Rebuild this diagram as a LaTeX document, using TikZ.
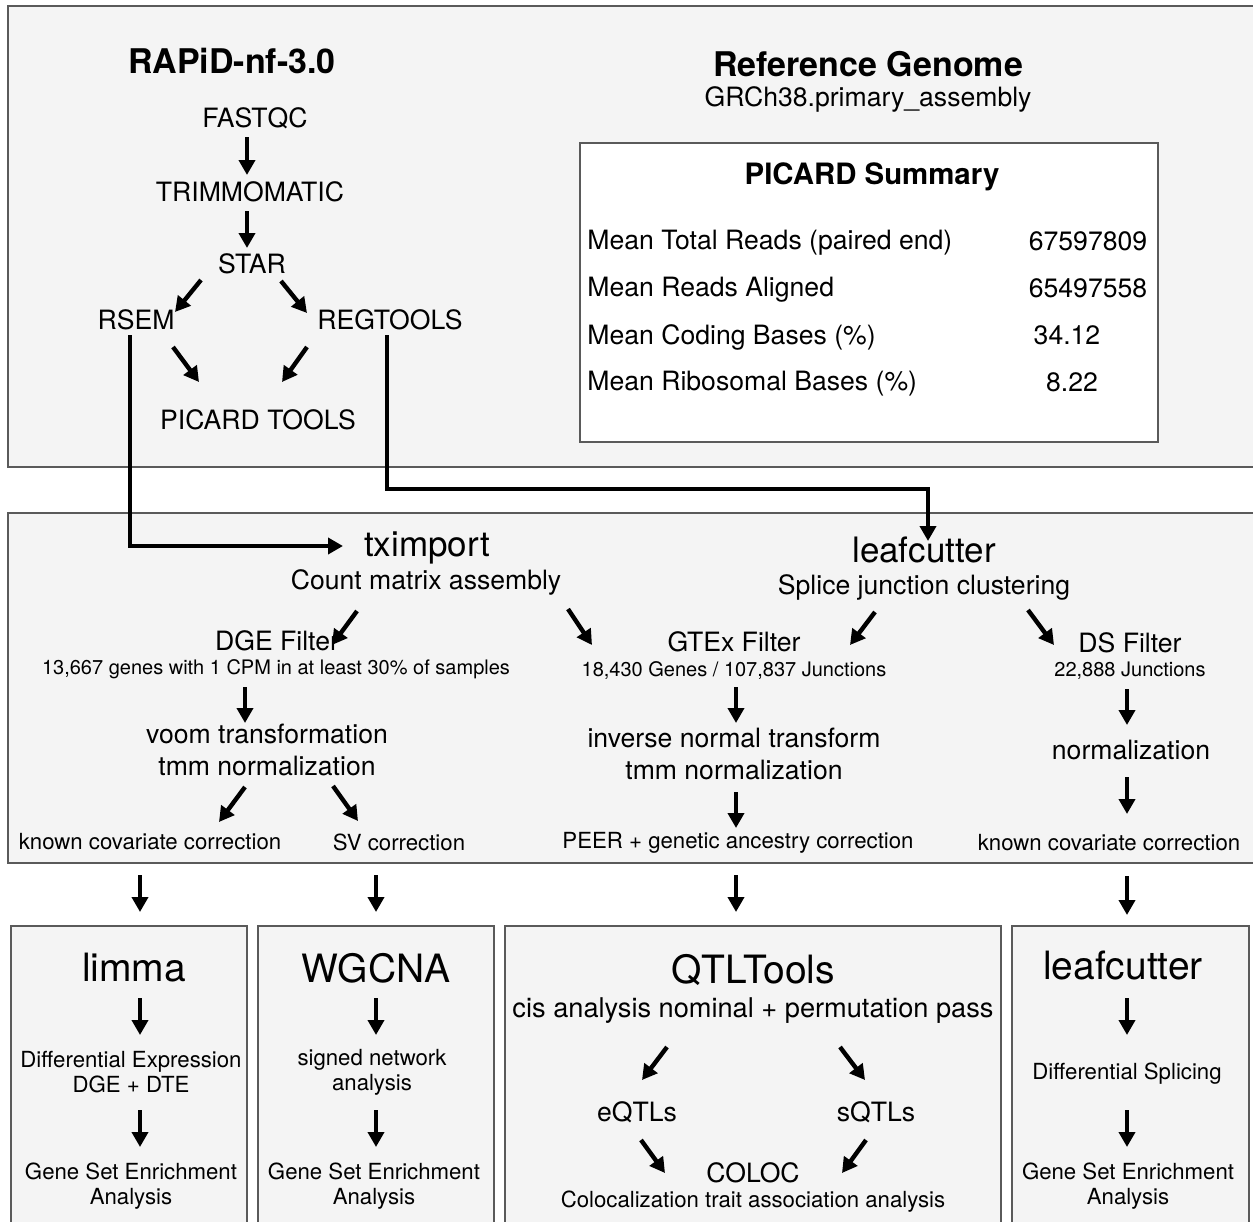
\documentclass[tikz,border=0pt]{standalone}
\usepackage{fontspec}
\setmainfont{TeX Gyre Heros}
\usetikzlibrary{arrows.meta,calc}
\definecolor{panel}{HTML}{F4F4F4}
\definecolor{frame}{HTML}{5A5A5A}

\begin{document}
\begin{tikzpicture}[x=0.5pt,y=-0.5pt,
  every node/.style={inner sep=0pt},
  box/.style={fill=panel,draw=frame,line width=1pt},
  arr/.style={line width=2.2pt,-{Triangle[length=7.5pt,width=8pt]}},
  ttl/.style={font=\fontsize{17}{20}\selectfont\bfseries},
  head/.style={font=\fontsize{14.7}{17}\selectfont\bfseries},
  lbl/.style={font=\fontsize{13.3}{16}\selectfont,align=center},
  big/.style={font=\fontsize{17.5}{20}\selectfont},
  huge/.style={font=\fontsize{19.5}{22}\selectfont},
  sml/.style={font=\fontsize{10}{12}\selectfont},
  note/.style={font=\fontsize{11.1}{12.5}\selectfont,align=center}]
\useasboundingbox (0,0) rectangle (1253,1221);
\draw[box] (8,6) rectangle (1262,467);
\draw[box,fill=white] (580,143) rectangle (1158,442);
\draw[box] (8,513) rectangle (1262,863);
\draw[box] (11,926) rectangle (247,1232);
\draw[box] (258,926) rectangle (494,1232);
\draw[box] (505,926) rectangle (1001,1232);
\draw[box] (1012,926) rectangle (1249,1232);

\node[ttl] (rapid) at (232,61) {RAPiD-nf-3.0};
\node[lbl] (fastqc) at (255,118) {FASTQC};
\node[lbl] (trim) at (250,192) {TRIMMOMATIC};
\node[lbl] (star) at (252,264) {STAR};
\node[lbl] (rsem) at (136,320) {RSEM};
\node[lbl] (regtools) at (390,320) {REGTOOLS};
\node[lbl] (picard) at (258,420) {PICARD TOOLS};
\node[ttl] (refgen) at (868,64) {Reference Genome};
\node[lbl] (grch) at (868,99) {GRCh38.primary\_assembly};
\node[head] (summary) at (872,177) {PICARD Summary};
\node[lbl,anchor=west] (row1) at (587,243) {Mean Total Reads (paired end)};
\node[lbl,anchor=west] (row2) at (587,290) {Mean Reads Aligned};
\node[lbl,anchor=west] (row3) at (587,337) {Mean Coding Bases (\%)};
\node[lbl,anchor=west] (row4) at (587,384) {Mean Ribosomal Bases (\%)};
\node[lbl] (val1) at (1088,241) {67597809};
\node[lbl] (val2) at (1088,288) {65497558};
\node[lbl] (val3) at (1067,335) {34.12};
\node[lbl] (val4) at (1072,382) {8.22};

\node[big] (tximport) at (427,548) {tximport};
\node[lbl] (countmat) at (426,582) {Count matrix assembly};
\node[big] (leafcut) at (924,550) {leafcutter};
\node[lbl] (splice) at (924,587) {Splice junction clustering};
\node[lbl] (dgefilt) at (277,641) {DGE Filter};
\node[sml] (dgesub) at (276,669) {13,667 genes with 1 CPM in at least 30\% of samples};
\node[lbl] (gtexfilt) at (734,642) {GTEx Filter};
\node[sml] (gtexsub) at (734,670) {18,430 Genes / 107,837 Junctions};
\node[lbl] (dsfilt) at (1130,643) {DS Filter};
\node[sml] (dssub) at (1130,671) {22,888 Junctions};
\node[lbl] (voom) at (267,750) {voom transformation\\tmm normalization};
\node[lbl] (invnorm) at (734,754) {inverse normal transform\\tmm normalization};
\node[lbl] (dsnorm) at (1131,750) {normalization};
\node[note] (knowncov) at (150,842) {known covariate correction};
\node[note] (svcorr) at (399,842) {SV correction};
\node[note] (peer) at (738,843) {PEER + genetic ancestry correction};
\node[note] (knownds) at (1109,843) {known covariate correction};

\node[huge] (limma) at (134,968) {limma};
\node[note] (diffexp) at (131,1072) {Differential Expression\\DGE + DTE};
\node[note] (gseaA) at (131,1186) {Gene Set Enrichment\\Analysis};
\node[huge] (wgcna) at (376,968) {WGCNA};
\node[note] (signed) at (372,1072) {signed network\\analysis};
\node[note] (gseaB) at (374,1186) {Gene Set Enrichment\\Analysis};
\node[huge] (qtltools) at (753,970) {QTLTools};
\node[lbl,font=\fontsize{13.6}{16}\selectfont] (cispass) at (753,1011) {cis analysis nominal + permutation pass};
\node[lbl] (eqtl) at (637,1112) {eQTLs};
\node[lbl] (sqtl) at (876,1112) {sQTLs};
\node[lbl] (coloc) at (753,1173) {COLOC};
\node[note] (colocsub) at (753,1202) {Colocalization trait association analysis};
\node[huge] (leafds) at (1123,966) {leafcutter};
\node[note] (diffspl) at (1127,1074) {Differential Splicing};
\node[note] (gseaC) at (1128,1186) {Gene Set Enrichment\\Analysis};

\draw[arr] ($(fastqc)+(-8,19)$) -- ($(trim)+(-3,-17)$);
\draw[arr] ($(trim)+(-3,19)$) -- ($(star)+(-5,-16)$);
\draw[arr] ($(star)+(-51,16)$) -- ($(rsem)+(39,-8)$);
\draw[arr] ($(star)+(29,17)$) -- ($(regtools)+(-83,-7)$);
\draw[arr] ($(rsem)+(37,27)$) -- ($(picard)+(-59,-38)$);
\draw[arr] ($(regtools)+(-83,27)$) -- ($(picard)+(24,-38)$);
\coordinate (bend) at (660,489);
\draw[arr] ($(rsem)+(-6,15)$) |- ($(tximport)+(-84,-2)$);
\draw[arr] ($(regtools)+(-3,15)$) |- (bend) -| ($(leafcut)+(4,-9)$);

\draw[arr] ($(countmat)+(-69,29)$) -- ($(dgefilt)+(55,4)$);
\draw[arr] ($(countmat)+(142,27)$) -- ($(gtexfilt)+(-142,3)$);
\draw[arr] ($(splice)+(-49,25)$) -- ($(gtexfilt)+(116,3)$);
\draw[arr] ($(splice)+(104,23)$) -- ($(dsfilt)+(-76,2)$);
\draw[arr] ($(dgesub)+(-31,18)$) -- ($(voom)+(-22,-27)$);
\draw[arr] ($(voom)+(-22,37)$) -- ($(knowncov)+(69,-20)$);
\draw[arr] ($(voom)+(66,36)$) -- ($(svcorr)+(-41,-21)$);
\draw[arr] ($(gtexsub)+(2,17)$) -- ($(invnorm)+(2,-31)$);
\draw[arr] ($(invnorm)+(2,38)$) -- ($(peer)+(-2,-15)$);
\draw[arr] ($(dssub)+(-3,18)$) -- ($(dsnorm)+(-4,-25)$);
\draw[arr] ($(dsnorm)+(-4,27)$) -- ($(knownds)+(18,-29)$);

\draw[arr] ($(knowncov)+(-10,33)$) -- ($(limma)+(6,-56)$);
\draw[arr] ($(svcorr)+(-23,33)$) -- ($(wgcna)+(0,-56)$);
\draw[arr] ($(peer)+(-2,32)$) -- ($(qtltools)+(-17,-58)$);
\draw[arr] ($(knownds)+(18,33)$) -- ($(leafds)+(4,-51)$);

\draw[arr] ($(limma)+(6,30)$) -- ($(diffexp)+(9,-37)$);
\draw[arr] ($(diffexp)+(9,38)$) -- ($(gseaA)+(9,-39)$);
\draw[arr] ($(wgcna)+(0,30)$) -- ($(signed)+(4,-37)$);
\draw[arr] ($(signed)+(4,38)$) -- ($(gseaB)+(2,-39)$);
\draw[arr] ($(cispass)+(-86,36)$) -- ($(eqtl)+(5,-32)$);
\draw[arr] ($(cispass)+(87,36)$) -- ($(sqtl)+(-11,-32)$);
\draw[arr] ($(eqtl)+(4,28)$) -- ($(coloc)+(-88,0)$);
\draw[arr] ($(sqtl)+(-10,28)$) -- ($(coloc)+(89,0)$);
\draw[arr] ($(leafds)+(4,32)$) -- ($(diffspl)+(0,-39)$);
\draw[arr] ($(diffspl)+(0,36)$) -- ($(gseaC)+(-1,-39)$);
\end{tikzpicture}
\end{document}
